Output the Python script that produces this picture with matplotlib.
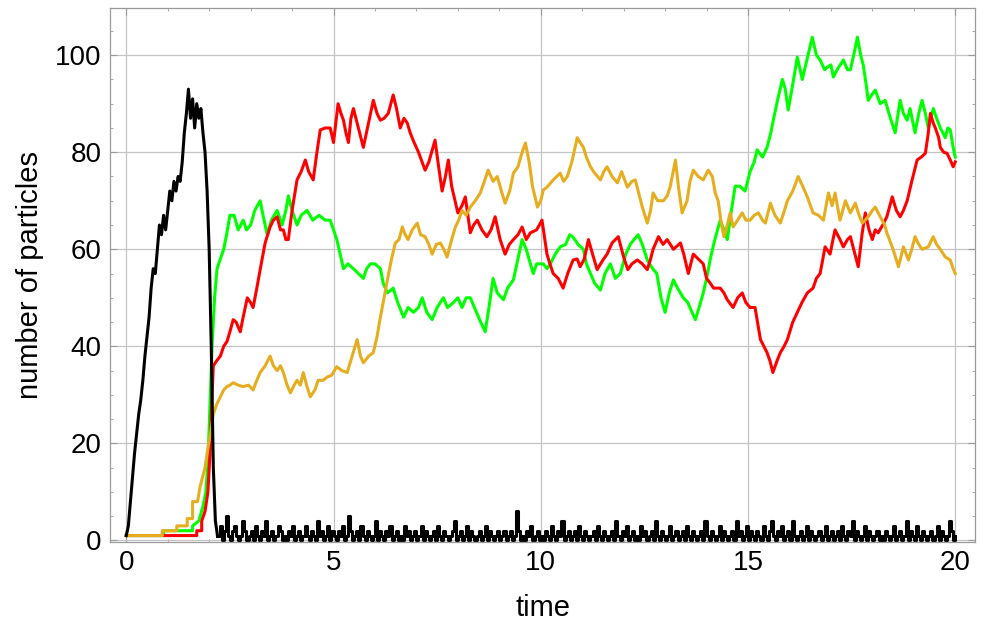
import numpy as np
import matplotlib.pyplot as plt

plt.rcParams['font.family'] = ['Liberation Sans', 'DejaVu Sans']

# green species
green_t = [0, 0.9, 0.9, 1.6, 1.6, 1.75, 1.85, 1.92, 1.97, 2.02, 2.07, 2.13, 2.19, 2.27, 2.35, 2.42,
           2.5, 2.6, 2.7, 2.82, 2.9, 3.0, 3.1, 3.23, 3.3, 3.4, 3.5, 3.64, 3.76, 3.85, 3.91, 4.0,
           4.12, 4.22, 4.36, 4.5, 4.65, 4.8, 4.92, 5.0, 5.08, 5.16, 5.24, 5.35, 5.48, 5.6, 5.72, 5.8,
           5.89, 6.0, 6.13, 6.2, 6.3, 6.44, 6.55, 6.69, 6.8, 6.93, 7.05, 7.14, 7.25, 7.38, 7.5, 7.65,
           7.75, 7.89, 8.0, 8.1, 8.2, 8.3, 8.45, 8.55, 8.66, 8.75, 8.85, 8.95, 9.1, 9.2, 9.34, 9.45,
           9.55, 9.65, 9.75, 9.82, 9.9, 10.06, 10.15, 10.23, 10.35, 10.47, 10.6, 10.7, 10.78, 10.9, 11.03, 11.1,
           11.2, 11.3, 11.44, 11.55, 11.68, 11.8, 11.92, 12.05, 12.16, 12.25, 12.35, 12.45, 12.57, 12.7, 12.8, 12.9,
           13.0, 13.1, 13.2, 13.3, 13.44, 13.55, 13.65, 13.73, 13.82, 13.92, 14.0, 14.1, 14.2, 14.33, 14.42, 14.5,
           14.6, 14.69, 14.8, 14.93, 15.05, 15.15, 15.22, 15.35, 15.46, 15.55, 15.61, 15.72, 15.83, 15.9, 15.97, 16.08,
           16.19, 16.31, 16.42, 16.55, 16.65, 16.74, 16.85, 16.91, 17.0, 17.06, 17.15, 17.3, 17.4, 17.47, 17.55, 17.64,
           17.72, 17.78, 17.85, 17.9, 18.0, 18.07, 18.19, 18.31, 18.4, 18.55, 18.67, 18.75, 18.84, 18.91, 19.03, 19.12,
           19.2, 19.28, 19.35, 19.47, 19.55, 19.64, 19.76, 19.82, 19.88, 19.95, 20.0]
green_v = [1, 1, 2, 2, 3, 4, 7, 10, 16, 28, 40, 50, 56, 58, 60, 63,
           67, 67, 64, 66, 64, 65, 68, 70, 67, 63, 66, 68, 65, 68, 71, 68,
           65, 67, 68, 66, 67, 66, 66, 64, 62, 59, 56, 57, 56, 55, 54, 56,
           57, 57, 56, 53, 51, 52, 49, 46, 48, 47, 48, 50, 47, 45.5, 48, 50,
           48, 49, 50, 48, 50, 50, 47, 45, 43, 48, 54, 51, 49.6, 52, 53.7, 58,
           62, 60, 57, 55, 57, 57, 56, 57, 59, 60.5, 61, 63, 62.5, 61, 60, 57,
           55, 53, 51.6, 55, 57, 54, 55, 59, 61, 62, 63, 61, 57.8, 56, 55, 50,
           47, 51, 53.7, 52, 50, 49, 47, 45.5, 48, 51, 54, 58.4, 62, 66, 64, 62,
           68, 73, 73, 72, 76, 78, 80.5, 79, 81, 84, 86.6, 91, 95, 93, 88.7, 94,
           99.6, 95, 99, 103.7, 100, 99, 97, 97.5, 98, 95.5, 97, 99, 97, 97, 100, 103.7,
           100, 98, 94, 90.7, 92, 92.8, 90, 90.7, 88, 84, 90.7, 88, 86.6, 89, 84, 88,
           90.7, 88, 85, 89, 87, 85, 83, 85, 84.6, 81, 79]

# red species
red_t = [0, 1.7, 1.7, 1.82, 1.82, 1.9, 1.97, 2.02, 2.06, 2.1, 2.18, 2.27, 2.35, 2.43, 2.5, 2.58,
         2.65, 2.75, 2.82, 2.92, 3.0, 3.06, 3.15, 3.23, 3.35, 3.47, 3.55, 3.64, 3.72, 3.79, 3.85, 3.91,
         4.0, 4.12, 4.22, 4.32, 4.4, 4.51, 4.6, 4.68, 4.8, 4.92, 5.0, 5.11, 5.18, 5.24, 5.3, 5.36,
         5.42, 5.48, 5.6, 5.72, 5.82, 5.96, 6.05, 6.13, 6.22, 6.32, 6.44, 6.52, 6.61, 6.7, 6.78, 6.85,
         6.92, 7.05, 7.21, 7.3, 7.45, 7.52, 7.62, 7.7, 7.77, 7.85, 8.0, 8.1, 8.18, 8.3, 8.38, 8.47,
         8.58, 8.7, 8.8, 8.9, 9.02, 9.14, 9.24, 9.34, 9.45, 9.55, 9.65, 9.75, 9.9, 10.03, 10.1, 10.15,
         10.22, 10.3, 10.42, 10.54, 10.65, 10.78, 10.88, 10.95, 11.05, 11.15, 11.25, 11.36, 11.5, 11.6, 11.72, 11.87,
         12.0, 12.1, 12.2, 12.33, 12.45, 12.57, 12.65, 12.71, 12.84, 12.95, 13.05, 13.2, 13.37, 13.45, 13.56, 13.68,
         13.8, 13.92, 14.0, 14.09, 14.17, 14.26, 14.33, 14.42, 14.5, 14.64, 14.75, 14.86, 14.95, 15.05, 15.17, 15.3,
         15.46, 15.53, 15.6, 15.7, 15.78, 15.87, 15.95, 16.08, 16.19, 16.3, 16.43, 16.57, 16.65, 16.74, 16.86, 16.98,
         17.05, 17.1, 17.22, 17.3, 17.4, 17.47, 17.55, 17.66, 17.75, 17.83, 17.92, 18.0, 18.07, 18.14, 18.25, 18.35,
         18.48, 18.58, 18.67, 18.75, 18.84, 18.96, 19.08, 19.18, 19.28, 19.35, 19.4, 19.47, 19.52, 19.6, 19.64, 19.72,
         19.8, 19.88, 19.95, 20.0]
red_v = [1, 1, 2, 2, 4, 6, 10, 18, 28, 36, 37, 38, 40, 41, 43, 45.5,
         45, 43, 46, 50, 49, 48, 52, 55.8, 61.3, 64.6, 66, 66.7, 64, 64, 62, 62,
         68, 74.3, 76, 78.4, 76, 74.3, 80, 84.6, 85, 85, 82, 90, 88, 86.6, 84, 82,
         87, 89, 85, 81, 85, 90.7, 88, 86.6, 87, 88, 91.8, 89, 85, 87, 86, 84,
         82.5, 80, 76.3, 78, 82.5, 78, 72, 75, 78.4, 73, 67.5, 69, 70.8, 63.4, 65, 66,
         64, 62.6, 64, 66.7, 62, 59, 61, 62, 63, 64.6, 62, 63.4, 64, 66, 62, 59,
         57, 55, 54, 52, 55, 57.8, 58, 56.4, 58, 62, 59, 55.8, 57.8, 59, 61.3, 62.6,
         58.4, 55.8, 57, 57.8, 57, 55.8, 58, 60, 62.6, 61, 62, 60, 61.3, 59, 55, 59,
         58, 57, 54, 53, 52, 52, 52, 51, 49.6, 48, 50, 51, 49, 48, 48, 41.4,
         38.7, 37, 34.6, 37, 38.7, 40, 41.4, 45, 47, 49, 51, 52, 54, 55, 60.5, 59,
         62, 64, 62, 60.5, 62, 62.6, 60, 56.4, 63, 67.5, 64, 62, 64, 63.4, 65, 66.7,
         70.8, 68, 66.7, 68, 70, 74.3, 78.4, 79, 79.8, 84, 88, 86, 85, 83, 81, 80,
         79.8, 78.4, 77, 78]

# gold species
gold_t = [0, 0.87, 0.87, 1.22, 1.22, 1.47, 1.47, 1.6, 1.6, 1.72, 1.78, 1.9, 1.97, 2.03, 2.1, 2.18,
          2.27, 2.35, 2.43, 2.5, 2.58, 2.7, 2.82, 2.95, 3.06, 3.15, 3.23, 3.35, 3.47, 3.55, 3.64, 3.72,
          3.79, 3.88, 3.96, 4.05, 4.12, 4.2, 4.27, 4.35, 4.44, 4.55, 4.63, 4.75, 4.85, 4.95, 5.08, 5.2,
          5.33, 5.45, 5.57, 5.65, 5.72, 5.85, 5.96, 6.05, 6.13, 6.22, 6.3, 6.4, 6.49, 6.58, 6.66, 6.73,
          6.8, 6.9, 7.02, 7.1, 7.21, 7.3, 7.38, 7.48, 7.58, 7.66, 7.74, 7.85, 7.94, 8.02, 8.1, 8.2,
          8.3, 8.42, 8.54, 8.64, 8.73, 8.85, 8.95, 9.05, 9.14, 9.25, 9.34, 9.45, 9.55, 9.63, 9.72, 9.8,
          9.92, 10.0, 10.06, 10.15, 10.3, 10.47, 10.55, 10.64, 10.75, 10.88, 10.95, 11.03, 11.1, 11.2, 11.3, 11.44,
          11.52, 11.6, 11.72, 11.85, 11.95, 12.09, 12.2, 12.28, 12.38, 12.45, 12.57, 12.65, 12.71, 12.82, 12.96, 13.05,
          13.12, 13.25, 13.32, 13.41, 13.53, 13.6, 13.68, 13.8, 13.92, 14.04, 14.14, 14.21, 14.28, 14.36, 14.42, 14.5,
          14.57, 14.64, 14.75, 14.86, 14.95, 15.05, 15.15, 15.25, 15.35, 15.42, 15.54, 15.65, 15.78, 15.88, 15.95, 16.08,
          16.21, 16.32, 16.43, 16.57, 16.7, 16.82, 16.94, 17.03, 17.1, 17.22, 17.35, 17.47, 17.59, 17.68, 17.76, 17.9,
          18.0, 18.07, 18.19, 18.3, 18.35, 18.5, 18.63, 18.75, 18.87, 18.95, 19.03, 19.12, 19.2, 19.35, 19.47, 19.55,
          19.64, 19.76, 19.88, 19.95, 20.0]
gold_v = [1, 1, 2, 2, 3, 3, 4.5, 4.5, 8, 8, 11, 15, 19, 22, 26, 28,
          29.6, 31, 31.7, 32, 32.5, 32, 31.7, 32, 31, 33, 34.6, 36, 38, 36, 35, 36,
          34.6, 32, 30.4, 32, 33, 32, 34.6, 32, 29.6, 31, 33, 33, 33.7, 34, 35.8, 35,
          34.6, 38, 41.4, 38, 36.6, 38, 38.7, 42, 46, 50, 53.7, 58, 61.3, 62, 64.6, 63,
          62, 64, 65.4, 63, 62.6, 61, 59, 61, 61.3, 60, 58.4, 62, 64.6, 66, 68, 67,
          68.7, 70, 71.6, 74, 76.3, 74, 75, 72, 69.5, 72, 75.7, 77, 80, 81.9, 78, 73,
          68.7, 70, 72.2, 72.8, 74.3, 75.7, 74, 75, 78, 83, 82, 81, 79, 77, 75.7, 74.3,
          76, 77, 75, 73.7, 76, 72.8, 74, 74.3, 71, 68.7, 65.4, 68, 71.6, 70, 70, 71,
          72.8, 78.4, 73, 67.5, 70, 74, 76.3, 75, 74.3, 76.3, 75, 71.6, 70, 65, 62.6, 65,
          67.5, 64.6, 66, 67.5, 66, 66, 67, 67.5, 66, 65.4, 69.5, 67, 65.4, 68, 70, 72,
          75, 73, 70.8, 67.5, 67, 66, 71.6, 69, 71.6, 66, 70, 67.5, 69.5, 67, 65.4, 66.7,
          68, 68.7, 66.7, 65, 63.4, 60, 56.4, 60.5, 57.8, 60, 62.6, 61, 60, 60.5, 62.6, 61,
          60, 58.4, 57.8, 56, 55]

# black species: fast rise and decay, then fluctuations near zero
black_t = [0, 0.05, 0.1, 0.15, 0.2, 0.25, 0.3, 0.35, 0.4, 0.45, 0.5, 0.55, 0.6, 0.65, 0.7, 0.75,
           0.8, 0.85, 0.9, 0.95, 1.0, 1.05, 1.1, 1.15, 1.2, 1.25, 1.3, 1.35, 1.4, 1.45, 1.5, 1.55,
           1.6, 1.65, 1.7, 1.75, 1.8, 1.85, 1.9, 1.95, 2.0, 2.05, 2.1, 2.15, 2.2]
black_v = [1, 3, 8, 13, 18, 22, 26, 29, 33, 38, 42, 46, 52, 56, 55, 60,
           65, 63, 67, 64, 68, 72, 70, 74, 72, 75, 74, 78, 84, 88, 93, 87,
           91, 85, 90, 87, 89, 84, 80, 72, 60, 40, 15, 4, 1]
black_noise = [1, 3, 0, 2, 5, 1, 0, 2, 3, 1, 0, 1, 4, 2, 0, 1, 2, 0, 3, 1,
               0, 2, 1, 4, 0, 1, 2, 0, 1, 3, 2, 0, 1, 0, 2, 1, 3, 0, 1, 2,
               0, 1, 3, 1, 0, 2, 1, 0, 4, 1, 2, 0, 1, 3, 0, 2, 1, 0, 2, 1,
               3, 0, 1, 5, 2, 0, 1, 2, 0, 3, 1, 0, 2, 1, 0, 1, 4, 0, 2, 1,
               0, 2, 1, 3, 0, 1, 2, 0, 1, 0, 3, 1, 2, 0, 1, 2, 0, 1, 3, 0,
               2, 1, 0, 1, 2, 0, 3, 1, 0, 2, 1, 0, 1, 2, 4, 0, 1, 2, 0, 1,
               3, 0, 2, 1, 0, 1, 2, 0, 1, 3, 0, 2, 1, 0, 1, 2, 0, 1, 2, 0,
               1, 2, 0, 1, 6, 2, 0, 1, 0, 2, 1, 3, 0, 1, 2, 0, 1, 0, 2, 1,
               0, 3, 1, 0, 2, 1, 4, 0, 1, 2, 0, 1, 2, 0, 3, 1, 0, 2, 1, 0,
               1, 2, 0, 3, 1, 0, 2, 1, 0, 1, 2, 0, 4, 1, 0, 2, 1, 3, 0, 1,
               2, 0, 1, 0, 3, 1, 2, 0, 1, 2, 0, 4, 1, 0, 2, 1, 0, 1, 3, 0,
               1, 2, 0, 1, 2, 0, 3, 1, 0, 2, 1, 0, 1, 2, 0, 4, 1, 0, 2, 1,
               0, 1, 3, 0, 2, 1, 0, 1, 2, 0, 4, 1, 2, 0, 1, 3, 0, 2, 1, 0,
               2, 1, 0, 3, 1, 0, 2, 4, 1, 0, 2, 1, 3, 0, 1, 2, 0, 4, 1, 0,
               1, 2, 0, 1, 3, 0, 2, 1, 0, 1, 2, 0, 1, 3, 0, 1, 2, 0, 1, 2,
               0, 3, 1, 0, 2, 1, 4, 0, 2, 1, 0, 1, 3, 0, 2, 1, 0, 1, 2, 0,
               1, 0, 2, 1, 0, 1, 3, 0, 1, 2, 0, 1, 4, 0, 2, 1, 0, 3, 1, 0,
               2, 1, 0, 1, 2, 0, 1, 3, 0, 2, 1, 0, 1, 4, 2, 0, 1]
noise_t = 2.2 + 0.05 * np.arange(len(black_noise))

fig = plt.figure(figsize=(9.92, 6.25), dpi=100)
ax = fig.add_axes([0.111, 0.133, 0.872, 0.854])

lw = 2.2
ax.plot(green_t, green_v, color='#00ff00', lw=lw)
ax.plot(red_t, red_v, color='#ff0000', lw=lw)
ax.plot(gold_t, gold_v, color='#e6ad1e', lw=lw)
ax.plot(black_t, black_v, color='black', lw=lw)
ax.plot(noise_t, black_noise, color='black', lw=lw, drawstyle='steps-post')

ax.set_xlim(-0.39, 20.48)
ax.set_ylim(-0.3, 109.7)
ax.set_xticks([0, 5, 10, 15, 20])
ax.set_yticks([0, 20, 40, 60, 80, 100])
ax.set_xticks(np.arange(0, 20.1, 1), minor=True)
ax.set_yticks(np.arange(0, 109, 5), minor=True)
ax.grid(True, which='major', color='#c4c4c4', lw=0.9)
ax.set_axisbelow(True)
for s in ax.spines.values():
    s.set_color('#9a9a9a')
    s.set_linewidth(0.9)
ax.tick_params(which='both', direction='in', top=True, right=True, color='#9a9a9a',
               labelsize=20, pad=6)
ax.tick_params(which='major', length=5)
ax.tick_params(which='minor', length=2.5)

ax.set_xlabel('time', fontsize=21, labelpad=13)
ax.set_ylabel('number of particles', fontsize=21, labelpad=8)

fig.savefig('out.png', dpi=100)
